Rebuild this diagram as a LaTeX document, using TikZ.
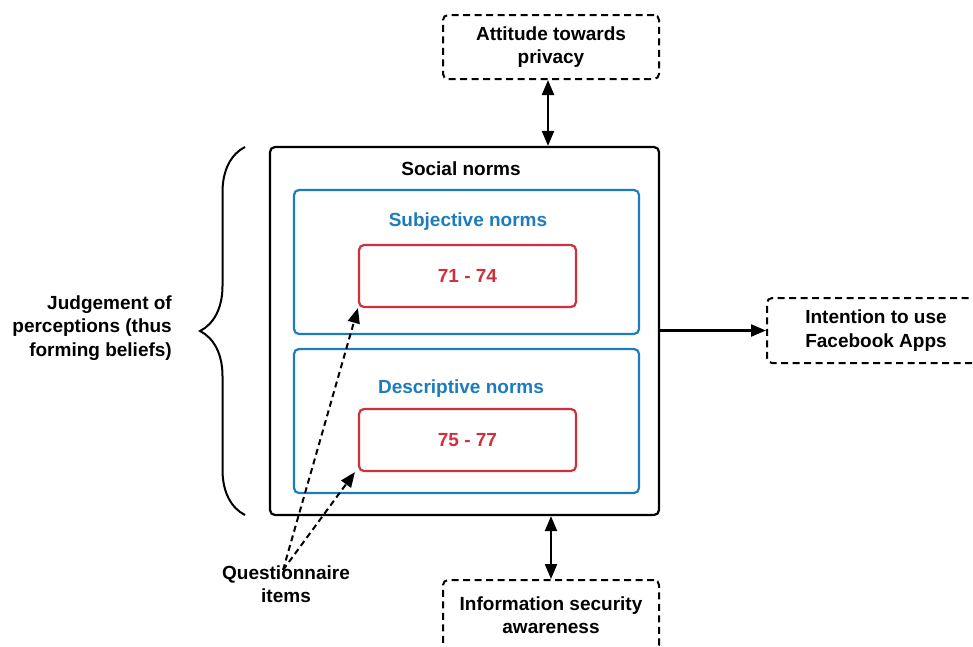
\documentclass[tikz,border=0pt]{standalone}
\usepackage{fontspec}
\setmainfont{Liberation Sans}
\usetikzlibrary{calc,arrows.meta,decorations.pathreplacing}
\usepackage{xcolor}
\definecolor{normblue}{RGB}{28,124,190}
\definecolor{itemred}{RGB}{206,48,60}
\tikzset{
  lbl/.style={font=\bfseries\fontsize{19}{23.5}\selectfont, align=center, inner sep=1pt},
  dashbox/.style={lbl, draw, line width=2pt, dash pattern=on 7pt off 4.5pt, rounded corners=5pt},
  normbox/.style={draw, line width=2.2pt, rounded corners=5pt},
  bluebox/.style={draw=normblue, line width=2.2pt, rounded corners=5pt},
  redbox/.style={lbl, draw=itemred, text=itemred, line width=2.2pt, rounded corners=5pt},
  link/.style={line width=2.2pt, -{Triangle[length=15pt,width=12pt]}},
  dlink/.style={line width=2.2pt, {Triangle[length=15pt,width=12pt]}-{Triangle[length=15pt,width=12pt]}},
  qlink/.style={line width=2pt, dash pattern=on 6pt off 4pt, -{Triangle[length=15pt,width=12pt]}},
}

\begin{document}
\begin{tikzpicture}[x=1pt,y=-1pt]
\useasboundingbox (0,0) rectangle (973,646);
\clip (0,0) rectangle (973,646);
% outer boxes
\node [dashbox, minimum width=216pt, minimum height=64pt] (att) at (551,47) {Attitude towards\\privacy};
\node [dashbox, minimum width=218pt, minimum height=65pt] (intent) at (876,330.5) {Intention to use\\Facebook Apps};
\node [dashbox, minimum width=216pt, minimum height=70pt] (isa) at (551,615) {Information security\\awareness};
% social norms
\node [normbox, minimum width=389pt, minimum height=368pt] (social) at (464.5,331) {};
\node [lbl] (socialtitle) at (461,169) {Social norms};
\node [bluebox, minimum width=345pt, minimum height=144pt] (subj) at (466.5,262) {};
\node [lbl, text=normblue] (subjtitle) at (468,222) {Subjective norms};
\node [bluebox, minimum width=345pt, minimum height=144pt] (desc) at (466.5,421) {};
\node [lbl, text=normblue] (desctitle) at (461,389) {Descriptive norms};
\node [redbox, minimum width=217pt, minimum height=62pt] (r1) at (467.5,276) {71 - 74};
\node [redbox, minimum width=217pt, minimum height=62pt] (r2) at (467.5,440) {75 - 77};
% arrows
\draw [dlink] (att.south -| 548,0) -- (social.north -| 548,0);
\draw [dlink] (social.south -| 551,0) -- (isa.north);
\draw [link] (social.east |- intent.west) -- (intent.west);
% questionnaire
\node [lbl] (qitems) at (286,584) {Questionnaire\\items};
\coordinate (qsrc) at ($(qitems.north)+(-3,6)$);
\draw [qlink] (qsrc) -- (r1.south west);
\draw [qlink] (qsrc) -- ($(r2.south west)+(-3,0)$);
% brace
\draw [line width=2pt, decorate, decoration={brace, amplitude=45pt, aspect=0.5}] (245,515) -- (245,147);
\node [lbl, align=right, anchor=east] (judge) at (173,328) {Judgement of\\perceptions (thus\\forming beliefs)};
\end{tikzpicture}
\end{document}
